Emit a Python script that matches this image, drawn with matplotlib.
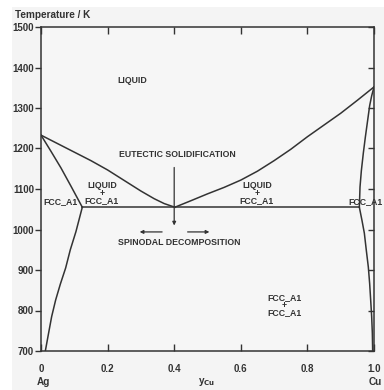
import matplotlib.pyplot as plt
from matplotlib.patches import Rectangle

# phase boundaries (x = y_Cu, T in K)
liq_left_x = [0.0, 0.05, 0.10, 0.15, 0.20, 0.25, 0.30, 0.34, 0.37, 0.402]
liq_left_t = [1233, 1212, 1191, 1170, 1147, 1121, 1095, 1076, 1064, 1055]
liq_right_x = [0.402, 0.45, 0.50, 0.55, 0.60, 0.65, 0.70, 0.75, 0.80, 0.85, 0.90, 0.95, 1.0]
liq_right_t = [1055, 1071, 1088, 1104, 1122, 1144, 1170, 1198, 1229, 1258, 1287, 1319, 1352]
sol_left_x = [0.0, 0.03, 0.06, 0.09, 0.124]
sol_left_t = [1233, 1193, 1152, 1107, 1055]
solv_left_x = [0.124, 0.105, 0.088, 0.074, 0.058, 0.044, 0.032, 0.023, 0.013]
solv_left_t = [1055, 995, 950, 905, 865, 826, 785, 745, 700]
sol_right_x = [1.0, 0.993, 0.987, 0.981, 0.974, 0.968, 0.962, 0.958, 0.956]
sol_right_t = [1352, 1330, 1306, 1270, 1228, 1189, 1145, 1105, 1055]
solv_right_x = [0.956, 0.964, 0.971, 0.977, 0.983, 0.987, 0.990, 0.993, 0.995, 0.996]
solv_right_t = [1055, 1022, 991, 948, 907, 866, 826, 785, 744, 700]
eut_x = [0.124, 0.956]
eut_t = 1055

xticks = [0, 0.2, 0.4, 0.6, 0.8, 1.0]
xtick_labels = ['0', '0.2', '0.4', '0.6', '0.8', '1.0']
yticks = [700, 800, 900, 1000, 1100, 1200, 1300, 1400, 1500]

plt.rcParams['font.family'] = ['Liberation Sans', 'DejaVu Sans']
plt.rcParams['font.weight'] = 'bold'
ink = '#333333'

fig = plt.figure(figsize=(3.84, 3.90), dpi=100, facecolor='white')
fig.patches.append(Rectangle((12 / 384, 0), 1, 1 - 7 / 390, transform=fig.transFigure,
                             facecolor='#f4f4f4', edgecolor='none', zorder=-10))
ax = fig.add_axes([41 / 384, 39 / 390, 333 / 384, 324 / 390])
ax.set_facecolor('#f6f6f6')

for xs, ts in [(liq_left_x, liq_left_t), (liq_right_x, liq_right_t),
               (sol_left_x, sol_left_t), (solv_left_x, solv_left_t),
               (sol_right_x, sol_right_t), (solv_right_x, solv_right_t)]:
    ax.plot(xs, ts, color=ink, lw=1.1, solid_joinstyle='round')
ax.plot(eut_x, [eut_t, eut_t], color=ink, lw=1.1)

# arrows
arr = dict(arrowstyle='-|>', color=ink, lw=0.9, mutation_scale=5)
ax.annotate('', xy=(0.40, 1003), xytext=(0.40, 1160), arrowprops=arr)
ax.annotate('', xy=(0.288, 994), xytext=(0.372, 994), arrowprops=arr)
ax.annotate('', xy=(0.514, 994), xytext=(0.432, 994), arrowprops=arr)

fs = 6.3
kw = dict(ha='center', va='center', fontsize=fs, color=ink, fontweight='bold')
ax.text(0.273, 1369, 'LIQUID', **kw)
ax.text(0.41, 1186, 'EUTECTIC SOLIDIFICATION', **kw)
ax.text(0.415, 969, 'SPINODAL DECOMPOSITION', **kw)
ax.text(0.183, 1089, 'LIQUID\n+\nFCC_A1', linespacing=0.8, **kw)
ax.text(0.648, 1089, 'LIQUID\n+\nFCC_A1', linespacing=0.8, **kw)
ax.text(0.06, 1068, 'FCC_A1', **kw)
ax.text(0.975, 1068, 'FCC_A1', **kw)
ax.text(0.73, 813, 'FCC_A1\n+\nFCC_A1', linespacing=0.8, **kw)

ax.set_xlim(0, 1)
ax.set_ylim(700, 1500)
ax.set_xticks(xticks)
ax.set_xticklabels(xtick_labels)
ax.set_yticks(yticks)
ax.tick_params(axis='x', direction='in', top=True, length=5, width=1, color=ink,
               labelsize=7, labelcolor=ink, pad=9)
ax.tick_params(axis='y', direction='out', length=4, width=1, color=ink,
               labelsize=7, labelcolor=ink, pad=1)
ax.tick_params(axis='y', which='both', right=True)
for lbl in ax.get_xticklabels() + ax.get_yticklabels():
    lbl.set_fontweight('bold')
# right ticks point inward
for t in ax.yaxis.get_major_ticks():
    t.tick2line.set_marker(0)
    t.tick2line.set_markersize(4)
for s in ax.spines.values():
    s.set_color(ink)
    s.set_linewidth(1.1)

fig.text(15 / 384, 1 - 15 / 390, 'Temperature / K', ha='left', va='center',
         fontsize=7.2, color=ink, fontweight='bold')
fig.text(43 / 384, 1 - 382 / 390, 'Ag', ha='center', va='center', fontsize=7.2,
         color=ink, fontweight='bold')
fig.text(375 / 384, 1 - 382 / 390, 'Cu', ha='center', va='center', fontsize=7.2,
         color=ink, fontweight='bold')
fig.text(207 / 384, 1 - 382 / 390, r'y$_{\mathbf{Cu}}$', ha='center', va='center',
         fontsize=7.2, color=ink, fontweight='bold')

fig.savefig('out.png', dpi=100)
